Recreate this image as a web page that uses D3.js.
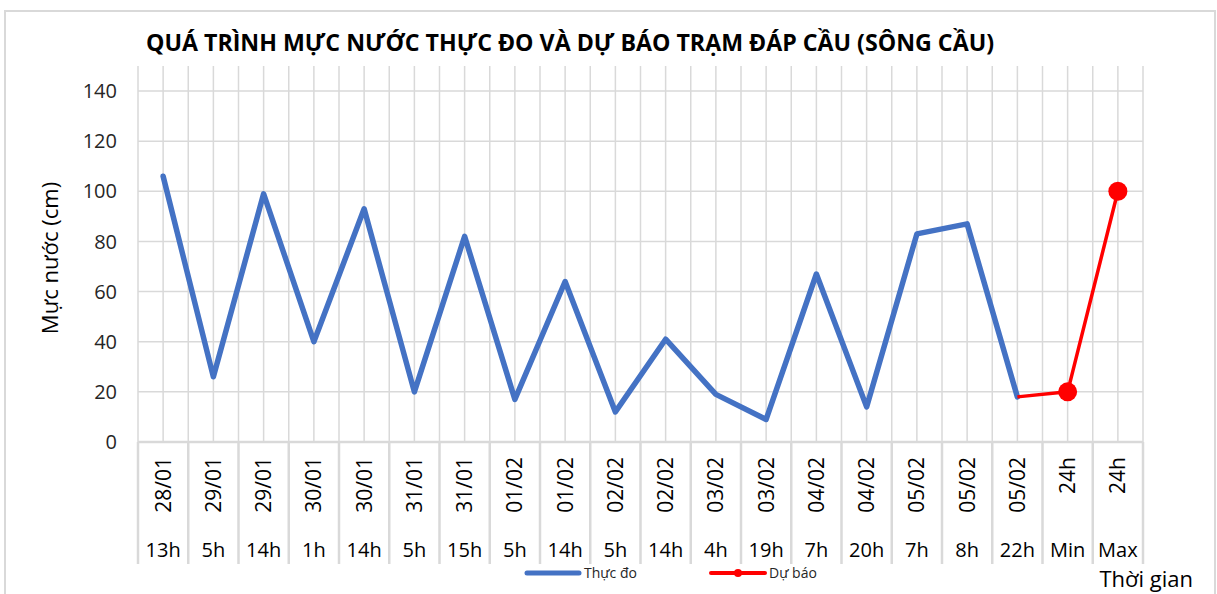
<!DOCTYPE html>
<html>
<head>
<meta charset="utf-8">
<script src="https://cdn.jsdelivr.net/npm/d3@7"></script>
<style>
  body { margin: 0; background: #fff; }
  svg { display: block; font-family: "Open Sans", "Noto Sans", sans-serif; }
</style>
</head>
<body>
<svg width="1217" height="594"></svg>
<script>
// category labels (two rows: date and hour)
var dates = ["28/01", "29/01", "29/01", "30/01", "30/01", "31/01", "31/01", "01/02", "01/02", "02/02",
             "02/02", "03/02", "03/02", "04/02", "04/02", "05/02", "05/02", "05/02", "24h", "24h"];
var hours = ["13h", "5h", "14h", "1h", "14h", "5h", "15h", "5h", "14h", "5h",
             "14h", "4h", "19h", "7h", "20h", "7h", "8h", "22h", "Min", "Max"];

// observed water level (cm)
var thucDo = [106, 26, 99, 40, 93, 20, 82, 17, 64, 12, 41, 19, 9, 67, 14, 83, 87, 18];
// forecast, starts at last observed point (05/02 22h)
var duBaoIdx = [17, 18, 19];
var duBao = [18, 20, 100];
var yTicks = [0, 20, 40, 60, 80, 100, 120, 140];

var svg = d3.select("svg");
var grid = "#d9d9d9";

// outer chart frame
svg.append("rect")
    .attr("x", 5).attr("y", 11)
    .attr("width", 1210).attr("height", 600)
    .attr("fill", "#fff")
    .attr("stroke", grid)
    .attr("stroke-width", 2);

var pLeft = 138, pRight = 1143, pTop = 91, pBottom = 442;

var x = d3.scaleBand()
    .domain(d3.range(dates.length))
    .range([pLeft, pRight])
    .padding(0);
var y = d3.scaleLinear()
    .domain([0, 140])
    .range([pBottom, pTop]);

var bw = x.bandwidth();
var cx = function (i) { return x(i) + bw / 2; };

// vertical gridlines at band edges and band centres
var vx = [];
d3.range(dates.length).forEach(function (i) {
    vx.push(x(i));
    vx.push(cx(i));
});
vx.push(pRight);
svg.append("g").selectAll("line")
    .data(vx)
    .enter().append("line")
    .attr("x1", function (d) { return d; })
    .attr("x2", function (d) { return d; })
    .attr("y1", pTop - 25)
    .attr("y2", pBottom)
    .attr("stroke", grid)
    .attr("stroke-width", 1.5);

// horizontal gridlines
svg.append("g").selectAll("line")
    .data(yTicks)
    .enter().append("line")
    .attr("x1", pLeft)
    .attr("x2", pRight)
    .attr("y1", function (d) { return y(d); })
    .attr("y2", function (d) { return y(d); })
    .attr("stroke", grid)
    .attr("stroke-width", 1.5);

// y tick labels
svg.append("g").selectAll("text")
    .data(yTicks)
    .enter().append("text")
    .attr("x", 117)
    .attr("y", function (d) { return y(d); })
    .attr("dy", "0.36em")
    .attr("text-anchor", "end")
    .attr("font-size", 20)
    .attr("fill", "#262626")
    .text(function (d) { return d; });

// category axis separators
var sep = d3.range(dates.length).map(function (i) { return x(i); });
sep.push(pRight);
svg.append("g").selectAll("line")
    .data(sep)
    .enter().append("line")
    .attr("x1", function (d) { return d; })
    .attr("x2", function (d) { return d; })
    .attr("y1", pBottom)
    .attr("y2", 564)
    .attr("stroke", grid)
    .attr("stroke-width", 2.5);
svg.append("line")
    .attr("x1", pLeft).attr("x2", pRight)
    .attr("y1", pBottom).attr("y2", pBottom)
    .attr("stroke", grid).attr("stroke-width", 2.5);

// date labels (rotated)
svg.append("g").selectAll("text")
    .data(dates)
    .enter().append("text")
    .attr("transform", function (d, i) {
        return "translate(" + cx(i) + ",457) rotate(-90)";
    })
    .attr("dy", "0.36em")
    .attr("text-anchor", "end")
    .attr("font-size", 21)
    .attr("fill", "#000")
    .text(function (d) { return d; });

// hour labels
svg.append("g").selectAll("text")
    .data(hours)
    .enter().append("text")
    .attr("x", function (d, i) { return cx(i); })
    .attr("y", 557)
    .attr("text-anchor", "middle")
    .attr("font-size", 20)
    .attr("fill", "#000")
    .text(function (d) { return d; });

// observed line
var line = d3.line()
    .x(function (d, i) { return cx(i); })
    .y(function (d) { return y(d); });
svg.append("path")
    .datum(thucDo)
    .attr("d", line)
    .attr("fill", "none")
    .attr("stroke", "#4472c4")
    .attr("stroke-width", 5.5)
    .attr("stroke-linejoin", "round")
    .attr("stroke-linecap", "round");

// forecast line
var line2 = d3.line()
    .x(function (d, i) { return cx(duBaoIdx[i]); })
    .y(function (d) { return y(d); });
svg.append("path")
    .datum(duBao)
    .attr("d", line2)
    .attr("fill", "none")
    .attr("stroke", "#ff0000")
    .attr("stroke-width", 3.5)
    .attr("stroke-linejoin", "round");
svg.append("g").selectAll("circle")
    .data(duBao.slice(1))
    .enter().append("circle")
    .attr("cx", function (d, i) { return cx(duBaoIdx[i + 1]); })
    .attr("cy", function (d) { return y(d); })
    .attr("r", 9.5)
    .attr("fill", "#ff0000");

// title
svg.append("text")
    .attr("x", 570)
    .attr("y", 51)
    .attr("text-anchor", "middle")
    .attr("font-size", 23.2)
    .attr("font-weight", "bold")
    .attr("fill", "#000")
    .text("QUÁ TRÌNH MỰC NƯỚC THỰC ĐO VÀ DỰ BÁO TRẠM ĐÁP CẦU (SÔNG CẦU)");

// y axis title
svg.append("text")
    .attr("transform", "translate(50,258) rotate(-90)")
    .attr("dy", "0.36em")
    .attr("text-anchor", "middle")
    .attr("font-size", 22)
    .attr("fill", "#000")
    .text("Mực nước (cm)");

// x axis title
svg.append("text")
    .attr("x", 1193)
    .attr("y", 587)
    .attr("text-anchor", "end")
    .attr("font-size", 22)
    .attr("fill", "#000")
    .text("Thời gian");

// legend
var legend = svg.append("g").attr("font-size", 14).attr("fill", "#262626");
legend.append("line")
    .attr("x1", 527).attr("x2", 579).attr("y1", 573).attr("y2", 573)
    .attr("stroke", "#4472c4").attr("stroke-width", 5).attr("stroke-linecap", "round");
legend.append("text").attr("x", 584).attr("y", 578).text("Thực đo");
legend.append("line")
    .attr("x1", 711).attr("x2", 765).attr("y1", 573).attr("y2", 573)
    .attr("stroke", "#ff0000").attr("stroke-width", 4).attr("stroke-linecap", "round");
legend.append("circle")
    .attr("cx", 738).attr("cy", 573).attr("r", 4).attr("fill", "#ff0000");
legend.append("text").attr("x", 769).attr("y", 578).text("Dự báo");
</script>
</body>
</html>
